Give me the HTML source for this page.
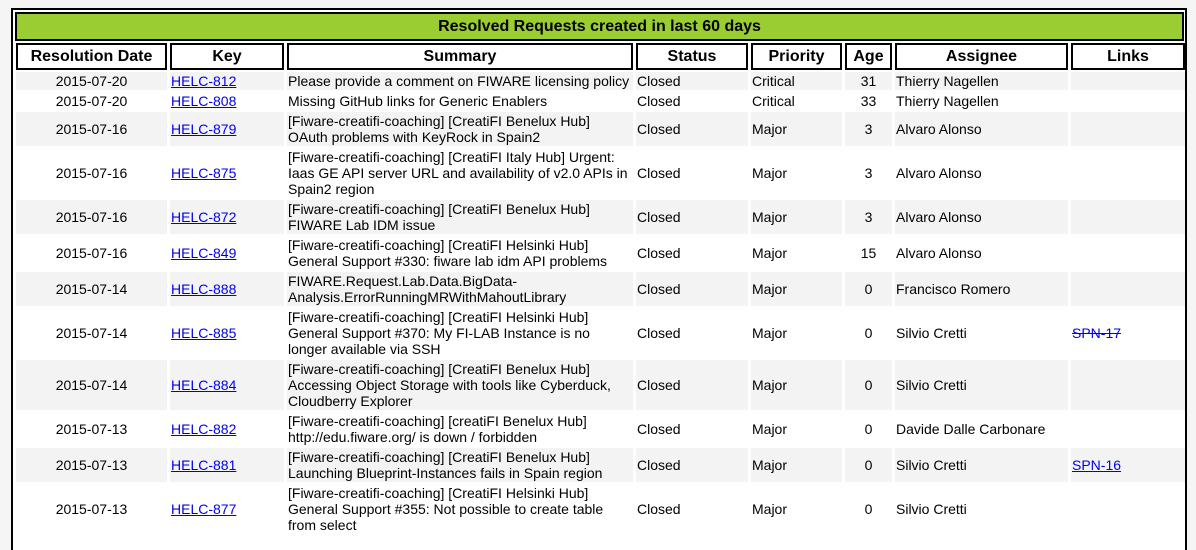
<!DOCTYPE html>
<html><head><meta charset="utf-8"><style>
html,body{margin:0;padding:0;background:#f5f5f5;width:1196px;height:538px;overflow:hidden}
.wrap{position:absolute;left:11px;top:8px;width:1172px;height:540px;border:2px solid #000;border-bottom:none;background:#fff}
table{position:absolute;left:2px;top:2px;border-collapse:separate;border-spacing:3px 2px;table-layout:fixed;width:1172px;font-family:"Liberation Sans",sans-serif;font-size:14px;color:#000}
.cap{position:absolute;left:2px;top:2px;width:1165px;height:25px;background:#9acd32;border:2px solid #000;font:bold 16px "Liberation Sans",sans-serif;text-align:center;line-height:25px}
th{border:2px solid #000;height:23px;font-size:16px;font-weight:bold;padding:0;background:#fff}
td{padding:1px 1px;line-height:16px;vertical-align:middle}
tr.o td{background:#f3f3f3}
td.c{text-align:center}
a{color:#00e;text-decoration:underline}
a.s{text-decoration:line-through}
</style></head><body>
<div class="wrap">
<div class="cap">Resolved Requests created in last 60 days</div>
<table style="top:31px;left:0">
<colgroup><col style="width:151px"><col style="width:114px"><col style="width:346px"><col style="width:112px"><col style="width:91px"><col style="width:47px"><col style="width:173px"><col style="width:114px"></colgroup>
<tr><th>Resolution Date</th><th>Key</th><th>Summary</th><th>Status</th><th>Priority</th><th>Age</th><th>Assignee</th><th>Links</th></tr>
<tr class="o"><td class="c">2015-07-20</td><td><a href="#">HELC-812</a></td><td>Please provide a comment on FIWARE licensing policy</td><td>Closed</td><td>Critical</td><td class="c">31</td><td>Thierry Nagellen</td><td></td></tr>
<tr><td class="c">2015-07-20</td><td><a href="#">HELC-808</a></td><td>Missing GitHub links for Generic Enablers</td><td>Closed</td><td>Critical</td><td class="c">33</td><td>Thierry Nagellen</td><td></td></tr>
<tr class="o"><td class="c">2015-07-16</td><td><a href="#">HELC-879</a></td><td>[Fiware-creatifi-coaching] [CreatiFI Benelux Hub] OAuth problems with KeyRock in Spain2</td><td>Closed</td><td>Major</td><td class="c">3</td><td>Alvaro Alonso</td><td></td></tr>
<tr><td class="c">2015-07-16</td><td><a href="#">HELC-875</a></td><td>[Fiware-creatifi-coaching] [CreatiFI Italy Hub] Urgent: Iaas GE API server URL and availability of v2.0 APIs in Spain2 region</td><td>Closed</td><td>Major</td><td class="c">3</td><td>Alvaro Alonso</td><td></td></tr>
<tr class="o"><td class="c">2015-07-16</td><td><a href="#">HELC-872</a></td><td>[Fiware-creatifi-coaching] [CreatiFI Benelux Hub] FIWARE Lab IDM issue</td><td>Closed</td><td>Major</td><td class="c">3</td><td>Alvaro Alonso</td><td></td></tr>
<tr><td class="c">2015-07-16</td><td><a href="#">HELC-849</a></td><td>[Fiware-creatifi-coaching] [CreatiFI Helsinki Hub] General Support #330: fiware lab idm API problems</td><td>Closed</td><td>Major</td><td class="c">15</td><td>Alvaro Alonso</td><td></td></tr>
<tr class="o"><td class="c">2015-07-14</td><td><a href="#">HELC-888</a></td><td>FIWARE.Request.Lab.Data.BigData-Analysis.ErrorRunningMRWithMahoutLibrary</td><td>Closed</td><td>Major</td><td class="c">0</td><td>Francisco Romero</td><td></td></tr>
<tr><td class="c">2015-07-14</td><td><a href="#">HELC-885</a></td><td>[Fiware-creatifi-coaching] [CreatiFI Helsinki Hub] General Support #370: My FI-LAB Instance is no longer available via SSH</td><td>Closed</td><td>Major</td><td class="c">0</td><td>Silvio Cretti</td><td><a class="s" href="#">SPN-17</a></td></tr>
<tr class="o"><td class="c">2015-07-14</td><td><a href="#">HELC-884</a></td><td>[Fiware-creatifi-coaching] [CreatiFI Benelux Hub] Accessing Object Storage with tools like Cyberduck, Cloudberry Explorer</td><td>Closed</td><td>Major</td><td class="c">0</td><td>Silvio Cretti</td><td></td></tr>
<tr><td class="c">2015-07-13</td><td><a href="#">HELC-882</a></td><td>[Fiware-creatifi-coaching] [creatiFI Benelux Hub] http://edu.fiware.org/ is down / forbidden</td><td>Closed</td><td>Major</td><td class="c">0</td><td>Davide Dalle Carbonare</td><td></td></tr>
<tr class="o"><td class="c">2015-07-13</td><td><a href="#">HELC-881</a></td><td>[Fiware-creatifi-coaching] [CreatiFI Benelux Hub] Launching Blueprint-Instances fails in Spain region</td><td>Closed</td><td>Major</td><td class="c">0</td><td>Silvio Cretti</td><td><a href="#">SPN-16</a></td></tr>
<tr><td class="c">2015-07-13</td><td><a href="#">HELC-877</a></td><td>[Fiware-creatifi-coaching] [CreatiFI Helsinki Hub] General Support #355: Not possible to create table from select</td><td>Closed</td><td>Major</td><td class="c">0</td><td>Silvio Cretti</td><td></td></tr>
</table>
</div>
</body></html>
